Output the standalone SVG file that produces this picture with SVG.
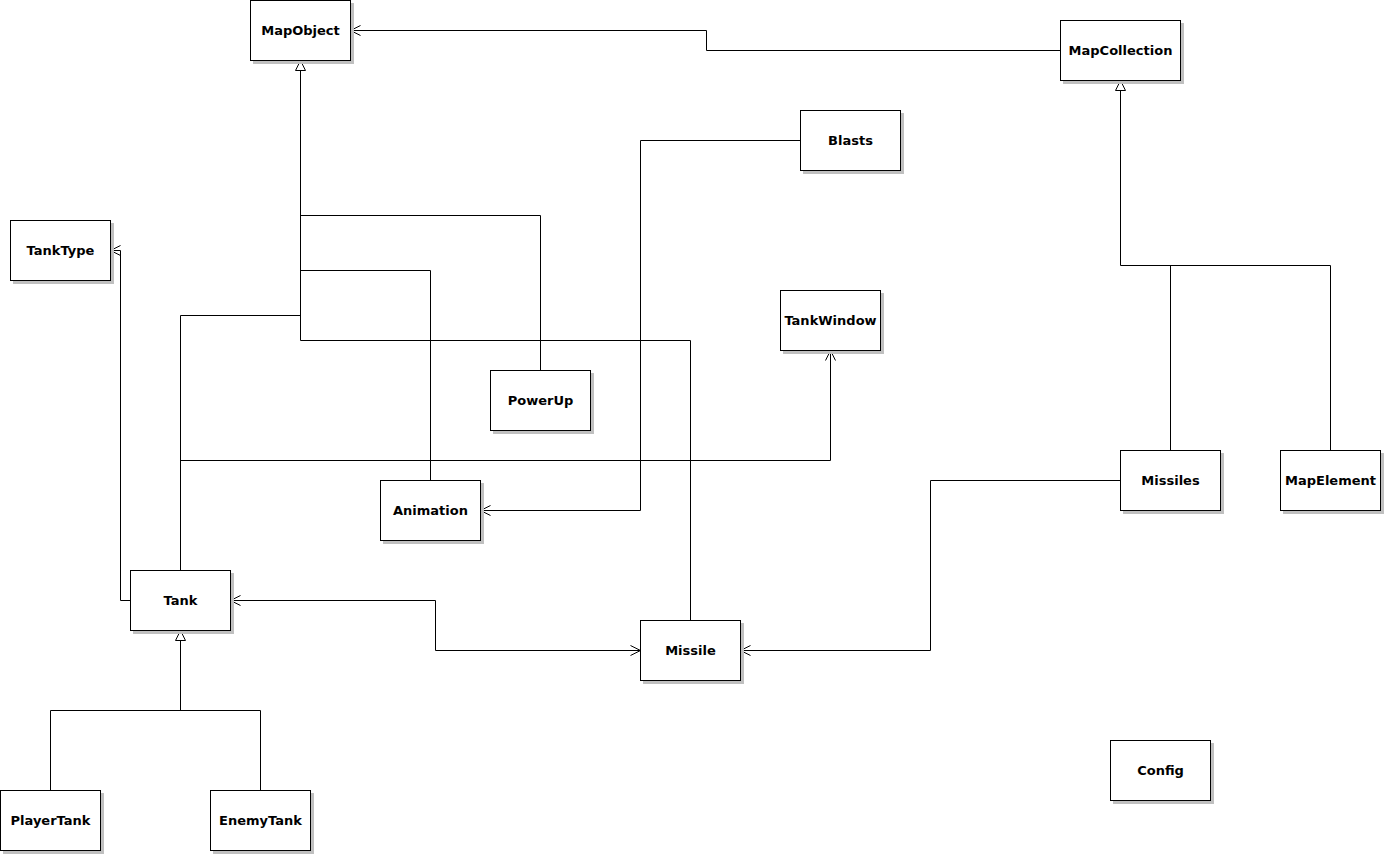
<svg xmlns="http://www.w3.org/2000/svg" width="1385" height="855" viewBox="0 0 1385 855">
<defs>
<style>
.box{fill:#fff;stroke:#000;stroke-width:1}
.sh{fill:#c0c0c0}
.lbl{font-family:"DejaVu Sans",sans-serif;font-weight:bold;font-size:13px;fill:#000;text-anchor:middle}
.c{fill:none;stroke:#000;stroke-width:1}
</style>
<marker id="open" markerWidth="12" markerHeight="12" refX="11" refY="6" orient="auto" markerUnits="userSpaceOnUse"><path d="M1,1 L11,6 L1,11" fill="none" stroke="#000" stroke-width="1"/></marker>
<marker id="openS" markerWidth="12" markerHeight="12" refX="11" refY="6" orient="auto-start-reverse" markerUnits="userSpaceOnUse"><path d="M1,1 L11,6 L1,11" fill="none" stroke="#000" stroke-width="1"/></marker>
<marker id="tri" markerWidth="12" markerHeight="12" refX="11" refY="6" orient="auto" markerUnits="userSpaceOnUse"><path d="M1,1 L11,6 L1,11 Z" fill="#fff" stroke="#000" stroke-width="1"/></marker>
</defs>
<rect width="1385" height="855" fill="#fff"/>
<g id="connectors">
<path class="c" d="M1060.5,50.5 H706.5 V30.5 H350.5" marker-end="url(#open)"/>
<path class="c" d="M300.5,340.5 V60.5" marker-end="url(#tri)"/>
<path class="c" d="M300.5,215.5 H540.5 V370"/>
<path class="c" d="M300.5,270.5 H430.5 V480"/>
<path class="c" d="M300.5,315.5 H180.5 V570"/>
<path class="c" d="M300.5,340.5 H690.5 V620"/>
<path class="c" d="M800,140.5 H640.5 V510.5 H480.5" marker-end="url(#open)"/>
<path class="c" d="M130,600.5 H120.5 V250.5 H110.5" marker-end="url(#open)"/>
<path class="c" d="M180.5,460.5 H830.5 V350.5" marker-end="url(#open)"/>
<path class="c" d="M230.5,600.5 H435.5 V650.5 H640.5" marker-start="url(#openS)" marker-end="url(#open)"/>
<path class="c" d="M1120,480.5 H930.5 V650.5 H740.5" marker-end="url(#open)"/>
<path class="c" d="M1120.5,265.5 V80.5" marker-end="url(#tri)"/>
<path class="c" d="M1120.5,265.5 H1330.5 V450"/>
<path class="c" d="M1170.5,265.5 V450"/>
<path class="c" d="M180.5,710.5 V630.5" marker-end="url(#tri)"/>
<path class="c" d="M50.5,790 V710.5 H260.5 V790"/>
</g>
<g id="MapObject"><rect class="sh" x="253" y="3" width="101" height="61"/><rect class="box" x="250.5" y="0.5" width="100" height="60"/><text class="lbl" x="300.5" y="35">MapObject</text></g>
<g id="MapCollection"><rect class="sh" x="1063" y="23" width="121" height="61"/><rect class="box" x="1060.5" y="20.5" width="120" height="60"/><text class="lbl" x="1120.5" y="55">MapCollection</text></g>
<g id="Blasts"><rect class="sh" x="803" y="113" width="101" height="61"/><rect class="box" x="800.5" y="110.5" width="100" height="60"/><text class="lbl" x="850.5" y="145">Blasts</text></g>
<g id="TankType"><rect class="sh" x="13" y="223" width="101" height="61"/><rect class="box" x="10.5" y="220.5" width="100" height="60"/><text class="lbl" x="60.5" y="255">TankType</text></g>
<g id="TankWindow"><rect class="sh" x="783" y="293" width="101" height="61"/><rect class="box" x="780.5" y="290.5" width="100" height="60"/><text class="lbl" x="830.5" y="325">TankWindow</text></g>
<g id="PowerUp"><rect class="sh" x="493" y="373" width="101" height="61"/><rect class="box" x="490.5" y="370.5" width="100" height="60"/><text class="lbl" x="540.5" y="405">PowerUp</text></g>
<g id="Animation"><rect class="sh" x="383" y="483" width="101" height="61"/><rect class="box" x="380.5" y="480.5" width="100" height="60"/><text class="lbl" x="430.5" y="515">Animation</text></g>
<g id="Missiles"><rect class="sh" x="1123" y="453" width="101" height="61"/><rect class="box" x="1120.5" y="450.5" width="100" height="60"/><text class="lbl" x="1170.5" y="485">Missiles</text></g>
<g id="MapElement"><rect class="sh" x="1283" y="453" width="101" height="61"/><rect class="box" x="1280.5" y="450.5" width="100" height="60"/><text class="lbl" x="1330.5" y="485">MapElement</text></g>
<g id="Tank"><rect class="sh" x="133" y="573" width="101" height="61"/><rect class="box" x="130.5" y="570.5" width="100" height="60"/><text class="lbl" x="180.5" y="605">Tank</text></g>
<g id="Missile"><rect class="sh" x="643" y="623" width="101" height="61"/><rect class="box" x="640.5" y="620.5" width="100" height="60"/><text class="lbl" x="690.5" y="655">Missile</text></g>
<g id="Config"><rect class="sh" x="1113" y="743" width="101" height="61"/><rect class="box" x="1110.5" y="740.5" width="100" height="60"/><text class="lbl" x="1160.5" y="775">Config</text></g>
<g id="PlayerTank"><rect class="sh" x="3" y="793" width="101" height="61"/><rect class="box" x="0.5" y="790.5" width="100" height="60"/><text class="lbl" x="50.5" y="825">PlayerTank</text></g>
<g id="EnemyTank"><rect class="sh" x="213" y="793" width="101" height="61"/><rect class="box" x="210.5" y="790.5" width="100" height="60"/><text class="lbl" x="260.5" y="825">EnemyTank</text></g>
</svg>
